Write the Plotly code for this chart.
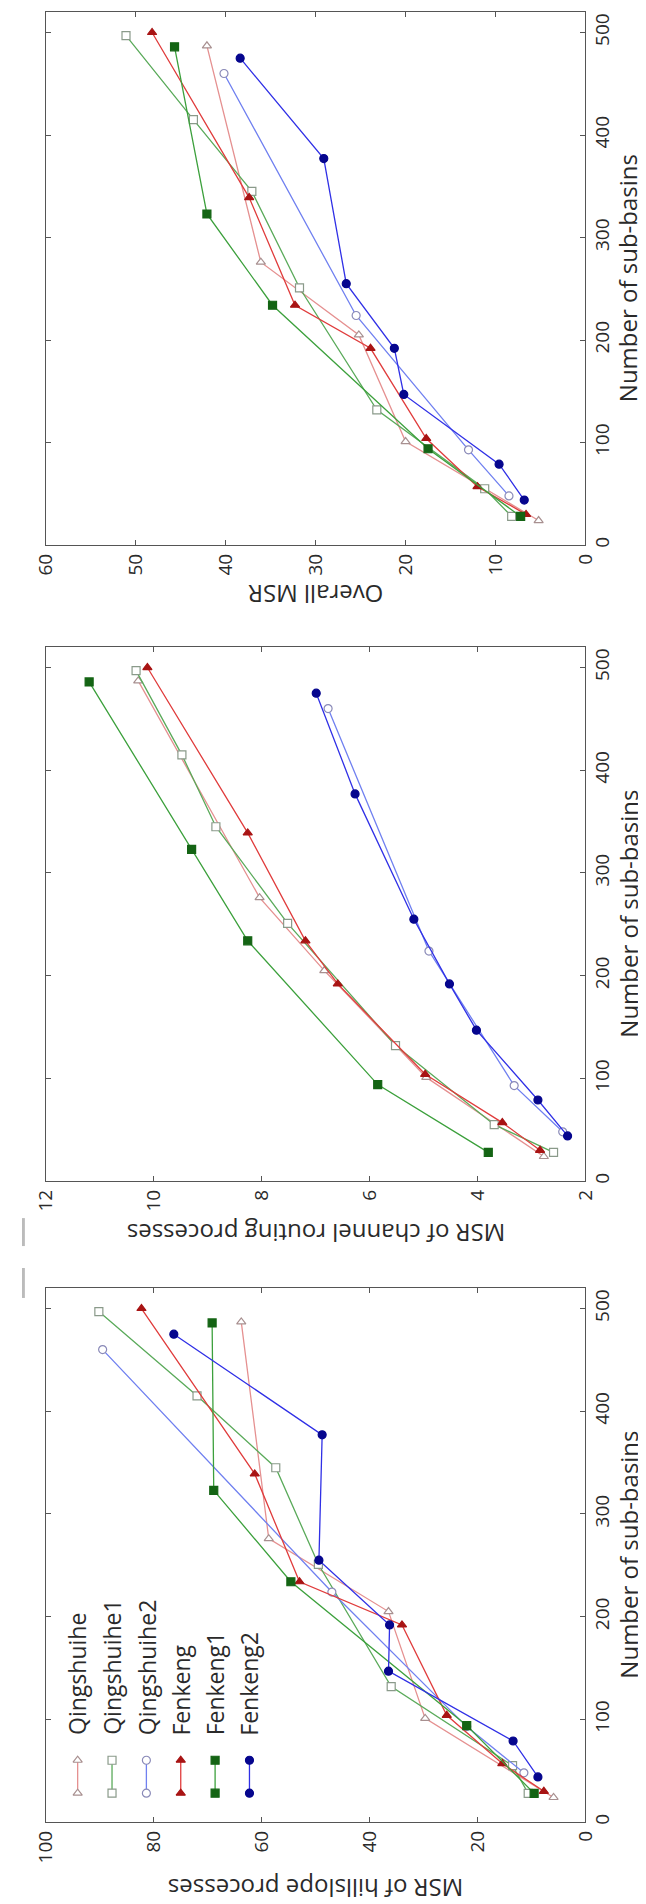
import plotly.graph_objects as go

W, H = 646, 1904
FONT = "Open Sans, Liberation Sans, sans-serif"

# ---------------- data ----------------
series_names = ["Qingshuihe", "Qingshuihe1", "Qingshuihe2", "Fenkeng", "Fenkeng1", "Fenkeng2"]

# number of sub-basins for each series
n_qsh = [24, 101, 205, 276, 487]
n_qsh1 = [28, 55, 132, 251, 345, 415, 497]
n_qsh2 = [48, 93, 224, 460]
n_fk = [30, 57, 104, 192, 234, 339, 500]
n_fk1 = [28, 94, 234, 323, 486]
n_fk2 = [44, 79, 147, 192, 255, 377, 475]

# MSR of hillslope processes
hill_qsh = [5.9, 29.7, 36.5, 58.7, 63.8]
hill_qsh1 = [10.6, 13.5, 36.0, 49.5, 57.4, 72.0, 90.2]
hill_qsh2 = [11.4, 22.0, 47.0, 89.5]
hill_fk = [7.7, 15.4, 25.7, 34.0, 53.0, 61.3, 82.3]
hill_fk1 = [9.5, 22.0, 54.6, 68.9, 69.2]
hill_fk2 = [8.8, 13.4, 36.5, 36.3, 49.4, 48.8, 76.3]

# MSR of channel routing processes
chan_qsh = [2.77, 4.95, 6.84, 8.04, 10.29]
chan_qsh1 = [2.59, 3.69, 5.52, 7.52, 8.85, 9.48, 10.33]
chan_qsh2 = [2.42, 3.32, 4.90, 6.77]
chan_fk = [2.84, 3.54, 4.97, 6.59, 7.19, 8.26, 10.12]
chan_fk1 = [3.80, 5.85, 8.26, 9.30, 11.20]
chan_fk2 = [2.33, 2.88, 4.02, 4.52, 5.18, 6.27, 6.99]

# Overall MSR
all_qsh = [5.2, 20.0, 25.2, 36.1, 42.1]
all_qsh1 = [8.2, 11.2, 23.2, 31.8, 37.1, 43.6, 51.1]
all_qsh2 = [8.5, 13.0, 25.5, 40.2]
all_fk = [6.6, 12.0, 17.7, 23.9, 32.3, 37.4, 48.2]
all_fk1 = [7.2, 17.5, 34.8, 42.1, 45.7]
all_fk2 = [6.8, 9.6, 20.2, 21.25, 26.6, 29.1, 38.4]

n_ticks = [0, 100, 200, 300, 400, 500]
hill_ticks = [0, 20, 40, 60, 80, 100]
chan_ticks = [2, 4, 6, 8, 10, 12]
all_ticks = [0, 10, 20, 30, 40, 50, 60]

n_data = [n_qsh, n_qsh1, n_qsh2, n_fk, n_fk1, n_fk2]
hill_data = [hill_qsh, hill_qsh1, hill_qsh2, hill_fk, hill_fk1, hill_fk2]
chan_data = [chan_qsh, chan_qsh1, chan_qsh2, chan_fk, chan_fk1, chan_fk2]
all_data = [all_qsh, all_qsh1, all_qsh2, all_fk, all_fk1, all_fk2]

# ---------------- styles ----------------
styles = [
    dict(line="#e59090", symbol="triangle-up", fill="white", edge="#a89090"),
    dict(line="#5aaa5a", symbol="square", fill="white", edge="#8a9a8a"),
    dict(line="#7080f0", symbol="circle", fill="white", edge="#8a8ab8"),
    dict(line="#e03c3c", symbol="triangle-up", fill="#a81414", edge="#a81414"),
    dict(line="#3ca03c", symbol="square", fill="#146414", edge="#146414"),
    dict(line="#3030e6", symbol="circle", fill="#06068e", edge="#06068e"),
]

FR_L, FR_R = 25, 587
N_RANGE = [0, 520]
panels = [
    # (xaxis id, yaxis id, values, x range, ticks, frame top px, frame bottom px, title, title y px)
    ("x", "y", hill_data, [100, 0], hill_ticks, 1282, 1817, "MSR of hillslope processes", 1884),
    ("x2", "y2", chan_data, [12, 2], chan_ticks, 640, 1175, "MSR of channel routing processes", 1228),
    ("x3", "y3", all_data, [60, 0], all_ticks, 4, 538, "Overall MSR", 588),
]

fig = go.Figure()
layout = dict(
    width=W, height=H, margin=dict(l=0, r=0, t=0, b=0),
    paper_bgcolor="white", plot_bgcolor="white", showlegend=False,
    font=dict(family=FONT, color="#2a2a2a"),
)
annotations = []
AX = dict(ticks="inside", ticklen=5, tickwidth=1, tickcolor="#555",
          showline=True, linecolor="#555", linewidth=1.3, mirror="ticks",
          showgrid=False, zeroline=False, tickangle=-90,
          tickfont=dict(size=19, color="#2a2a2a", family=FONT))

for xa, ya, vals, xr, xt, top, bot, title, ty in panels:
    xkey = "xaxis" + xa[1:]
    ykey = "yaxis" + ya[1:]
    layout[xkey] = dict(AX, domain=[FR_L / W, FR_R / W], range=xr, autorange=False,
                        tickvals=xt, anchor=ya)
    layout[ykey] = dict(AX, domain=[1 - bot / H, 1 - top / H], range=N_RANGE, autorange=False,
                        tickvals=n_ticks, side="right", anchor=xa)
    for i, name in enumerate(series_names):
        st = styles[i]
        fig.add_trace(go.Scatter(
            x=vals[i], y=n_data[i], name=name, mode="lines+markers", xaxis=xa, yaxis=ya,
            line=dict(color=st["line"], width=1.3),
            marker=dict(symbol=st["symbol"], size=8, color=st["fill"],
                        line=dict(color=st["edge"], width=1.2)),
        ))
    annotations.append(dict(text=title, xref="paper", yref="paper",
                            x=(FR_L + FR_R) / 2 / W, y=1 - ty / H, textangle=180,
                            showarrow=False, font=dict(size=24, family=FONT, color="#2a2a2a"),
                            xanchor="center", yanchor="middle"))
    annotations.append(dict(text="Number of sub-basins", xref="paper", yref="paper",
                            x=631 / W, y=1 - (top + bot) / 2 / H, textangle=-90,
                            showarrow=False, font=dict(size=24, family=FONT, color="#2a2a2a"),
                            xanchor="center", yanchor="middle"))

# ---------------- rotated legend (in hillslope panel) ----------------
hx0, hx1 = panels[0][3]
top0, bot0 = panels[0][5], panels[0][6]


def px_to_hill(px):
    return hx0 + (px - FR_L) / (FR_R - FR_L) * (hx1 - hx0)


def py_to_n(py):
    return N_RANGE[0] + (bot0 - py) / (bot0 - top0) * (N_RANGE[1] - N_RANGE[0])


for i, name in enumerate(series_names):
    st = styles[i]
    cx = 58 + 35.8 * i
    lx = px_to_hill(cx)
    fig.add_trace(go.Scatter(
        x=[lx, lx], y=[py_to_n(1788), py_to_n(1755)], mode="lines+markers",
        xaxis="x", yaxis="y", hoverinfo="skip",
        line=dict(color=st["line"], width=1.3),
        marker=dict(symbol=st["symbol"], size=8, color=st["fill"],
                    line=dict(color=st["edge"], width=1.2)),
    ))
    annotations.append(dict(text=name, xref="paper", yref="paper",
                            x=cx / W, y=1 - 1732 / H, textangle=-90, showarrow=False,
                            xanchor="center", yanchor="bottom",
                            font=dict(size=23, family=FONT, color="#2a2a2a")))

shapes = [
    dict(type="rect", xref="paper", yref="paper", x0=0, x1=3 / W,
         y0=1 - 1240 / H, y1=1 - 1212 / H, fillcolor="#bbbbbb", line=dict(width=0)),
    dict(type="rect", xref="paper", yref="paper", x0=0, x1=3 / W,
         y0=1 - 1292 / H, y1=1 - 1262 / H, fillcolor="#bbbbbb", line=dict(width=0)),
]

layout["annotations"] = annotations
layout["shapes"] = shapes
fig.update_layout(**layout)
fig.write_html("out.html")
